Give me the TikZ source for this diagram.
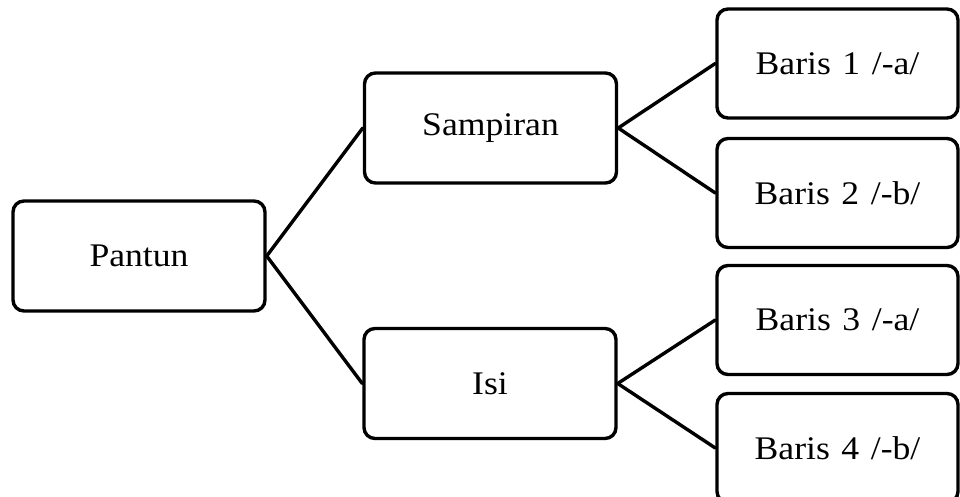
\documentclass[tikz,border=0pt]{standalone}
\usepackage{fontspec}
\setmainfont[FakeStretch=1.08,WordSpace=1.3]{Liberation Serif}
\begin{document}
\begin{tikzpicture}[x=1pt,y=-1pt,
  box/.style={draw=black, line width=3.4pt, rounded corners=11pt, fill=white,
    font=\fontsize{33}{40}\selectfont, inner sep=0pt, align=center},
  wide/.style={box, minimum width=252pt, minimum height=110pt},
  leaf/.style={box, minimum width=241pt, minimum height=109pt},
  link/.style={line width=3.4pt, line cap=round}]
\useasboundingbox (0,0) rectangle (960,497);
\node[wide] (pantun) at (139,256) {Pantun};
\node[wide] (samp) at (490.5,128) {Sampiran};
\node[wide] (isi) at (490,383.5) {Isi};
\node[leaf] (b1) at (837.5,63.5) {Baris 1 /-a/};
\node[leaf] (b2) at (837.5,193) {Baris 2 /-b/};
\node[leaf] (b3) at (837.5,320) {Baris 3 /-a/};
\node[leaf] (b4) at (837.5,448) {Baris 4 /-b/};
\draw[link] (pantun.east) -- (samp.west);
\draw[link] (pantun.east) -- (isi.west);
\draw[link] (samp.east) -- (b1.west);
\draw[link] (samp.east) -- (b2.west);
\draw[link] (isi.east) -- (b3.west);
\draw[link] (isi.east) -- (b4.west);
\end{tikzpicture}
\end{document}
